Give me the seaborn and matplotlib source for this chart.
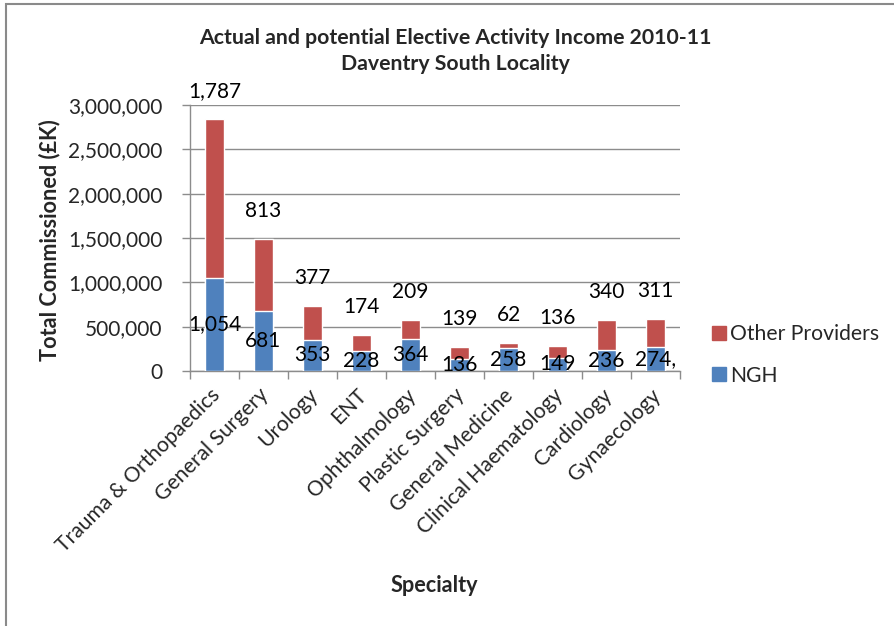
import matplotlib
matplotlib.use("Agg")
import matplotlib.pyplot as plt
import matplotlib.transforms as mtransforms
from matplotlib.patches import Rectangle, Patch
from matplotlib.ticker import FuncFormatter, MultipleLocator
import numpy as np
import pandas as pd
import seaborn as sns

# Elective activity income by specialty, in £K
specialties = ["Trauma & Orthopaedics", "General Surgery", "Urology", "ENT",
               "Ophthalmology", "Plastic Surgery", "General Medicine",
               "Clinical Haematology", "Cardiology", "Gynaecology"]
ngh = [1054, 681, 353, 228, 364, 136, 258, 149, 236, 274]
other_providers = [1787, 813, 377, 174, 209, 139, 62, 136, 340, 311]

title_lines = ["Actual and potential Elective Activity Income 2010-11",
               "Daventry South Locality"]
y_title = "Total Commissioned (£K)"
x_title = "Specialty"

BLUE = "#4F81BD"
RED = "#C0504D"
GRID = "#8C8C8C"
FONT = "Lato"

sns.set_theme(style="white")
plt.rcParams["font.family"] = [FONT, "DejaVu Sans"]

df = pd.DataFrame({
    "Specialty": specialties,
    "NGH": np.array(ngh) * 1000,
    "Other Providers": np.array(other_providers) * 1000,
})
df["Total"] = df["NGH"] + df["Other Providers"]

W, H = 894, 626
fig = plt.figure(figsize=(W / 100, H / 100), dpi=100)
ax = fig.add_axes([190 / W, 1 - 371 / H, 490 / W, 266 / H])

sns.barplot(data=df, x="Specialty", y="Total", color=RED, width=0.4,
            saturation=1, ax=ax, zorder=3)
sns.barplot(data=df, x="Specialty", y="NGH", color=BLUE, width=0.4,
            saturation=1, ax=ax, zorder=3)

ax.set_ylim(0, 3_000_000)
ax.set_xlim(-0.5, len(specialties) - 0.5)
ax.yaxis.set_major_locator(MultipleLocator(500_000))
ax.yaxis.set_major_formatter(FuncFormatter(lambda v, p: f"{int(v):,}"))
ax.grid(axis="y", color=GRID, linewidth=1.0, zorder=0)
ax.set_axisbelow(True)

for s in ["top", "right"]:
    ax.spines[s].set_visible(False)
for s in ["left", "bottom"]:
    ax.spines[s].set_color(GRID)
    ax.spines[s].set_linewidth(1.0)

# y ticks outward on the left
ax.tick_params(axis="y", which="major", direction="out", length=6, width=1,
               color=GRID, pad=14, labelsize=15, left=True)
# x ticks sit on the category boundaries
ax.set_xticks(np.arange(len(specialties)))
ax.set_xticklabels(specialties, rotation=45, ha="right", va="top",
                   rotation_mode="anchor", fontsize=15.2)
ax.tick_params(axis="x", which="major", length=0, pad=10)
ax.set_xticks(np.arange(-0.5, len(specialties)), minor=True)
ax.tick_params(axis="x", which="minor", direction="out", length=6, width=1,
               color=GRID, bottom=True)
shift = mtransforms.ScaledTranslation(-5 / 100, 0, fig.dpi_scale_trans)
for lbl in ax.get_xticklabels():
    lbl.set_transform(lbl.get_transform() + shift)

ax.set_xlabel("")
ax.set_ylabel("")

# data labels
for i, row in df.iterrows():
    ax.annotate(f"{other_providers[i]:,}", (i, row["Total"]),
                xytext=(0, 28), textcoords="offset pixels",
                ha="center", va="center", fontsize=15, color="black",
                annotation_clip=False, zorder=5)
ngh_text = [f"{v:,}" for v in ngh]
ngh_text[-1] += ","
for i, row in df.iterrows():
    ax.text(i, row["NGH"] / 2, ngh_text[i], ha="center", va="center",
            fontsize=15, color="black", zorder=5)

# titles
fig.text(455 / W, 1 - 38 / H, title_lines[0], ha="center", va="center",
         fontsize=15.3, fontweight="bold")
fig.text(455 / W, 1 - 64 / H, title_lines[1], ha="center", va="center",
         fontsize=15.3, fontweight="bold")
fig.text(50 / W, 1 - 240 / H, y_title, rotation=90, ha="center", va="center",
         fontsize=15.6, fontweight="bold")
fig.text(434 / W, 1 - 585 / H, x_title, ha="center", va="center",
         fontsize=15.6, fontweight="bold")

# legend
handles = [Patch(facecolor=RED, edgecolor=RED), Patch(facecolor=BLUE, edgecolor=BLUE)]
fig.legend(handles, ["Other Providers", "NGH"], loc="center left",
           bbox_to_anchor=(693 / W, 1 - 355 / H), frameon=False,
           fontsize=15.2, handlelength=0.65, handleheight=0.65,
           handletextpad=0.22, labelspacing=1.0)

# chart border
fig.patches.append(Rectangle((6 / W, -0.1), 1.2, 1 - 4 / H + 0.1,
                             transform=fig.transFigure, fill=False,
                             edgecolor="#8A8A8A", linewidth=1.5))

fig.savefig("out.png", dpi=100)
